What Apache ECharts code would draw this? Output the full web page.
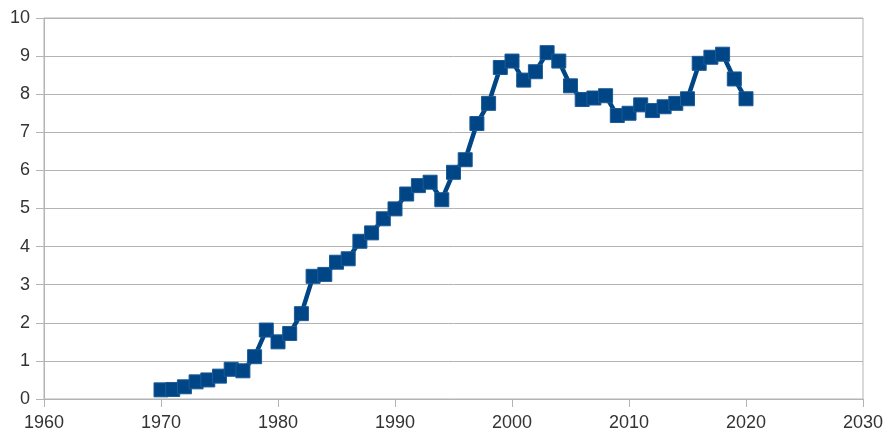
<!DOCTYPE html>
<html>
<head>
<meta charset="utf-8">
<script src="https://cdn.jsdelivr.net/npm/echarts@6/dist/echarts.min.js"></script>
<style>
html,body{margin:0;padding:0;background:#fff;}
#main{width:887px;height:434px;}
</style>
</head>
<body>
<div id="main"></div>
<script>
var years = [1970,1971,1972,1973,1974,1975,1976,1977,1978,1979,
	1980,1981,1982,1983,1984,1985,1986,1987,1988,1989,
	1990,1991,1992,1993,1994,1995,1996,1997,1998,1999,
	2000,2001,2002,2003,2004,2005,2006,2007,2008,2009,
	2010,2011,2012,2013,2014,2015,2016,2017,2018,2019,2020];
var values = [0.24,0.25,0.32,0.45,0.50,0.60,0.78,0.74,1.11,1.81,
	1.50,1.72,2.24,3.22,3.27,3.59,3.68,4.14,4.36,4.73,
	4.99,5.38,5.60,5.69,5.23,5.95,6.28,7.23,7.76,8.70,
	8.87,8.37,8.59,9.09,8.87,8.22,7.86,7.90,7.96,7.44,
	7.50,7.72,7.57,7.67,7.76,7.88,8.81,8.97,9.05,8.40,7.88];

var myChart = echarts.init(document.getElementById('main'));
var seriesData = [];
for (var i = 0; i < years.length; i++) {
	seriesData.push([years[i], values[i]]);
}
var option = {
	animation: false,
	grid: {
		left: 44,
		right: 24,
		top: 18,
		bottom: 35,
		show: true,
		borderColor: '#b3b3b3',
		borderWidth: 1
	},
	xAxis: {
		type: 'value',
		min: 1960,
		max: 2030,
		interval: 10,
		axisLine: {show: true, lineStyle: {color: '#b3b3b3', width: 1}},
		axisTick: {show: true, length: 8, lineStyle: {color: '#b3b3b3'}},
		splitLine: {show: false},
		axisLabel: {
			color: '#333333',
			fontSize: 18,
			fontFamily: 'Liberation Sans',
			margin: 15,
			formatter: function(v){ return String(v); }
		}
	},
	yAxis: {
		type: 'value',
		min: 0,
		max: 10,
		interval: 1,
		axisLine: {show: true, lineStyle: {color: '#b3b3b3', width: 1}},
		axisTick: {show: true, length: 8, lineStyle: {color: '#b3b3b3'}},
		splitLine: {show: true, lineStyle: {color: '#b3b3b3', width: 1}},
		axisLabel: {
			color: '#333333',
			fontSize: 18,
			fontFamily: 'Liberation Sans',
			margin: 14
		}
	},
	series: [
		{
			type: 'line',
			data: seriesData,
			symbol: 'rect',
			symbolSize: 14,
			showAllSymbol: true,
			lineStyle: {color: '#004586', width: 4.5},
			itemStyle: {color: '#004586', borderColor: '#1a5a96', borderWidth: 1}
		}
	]
};
myChart.setOption(option, true);
</script>
</body>
</html>
